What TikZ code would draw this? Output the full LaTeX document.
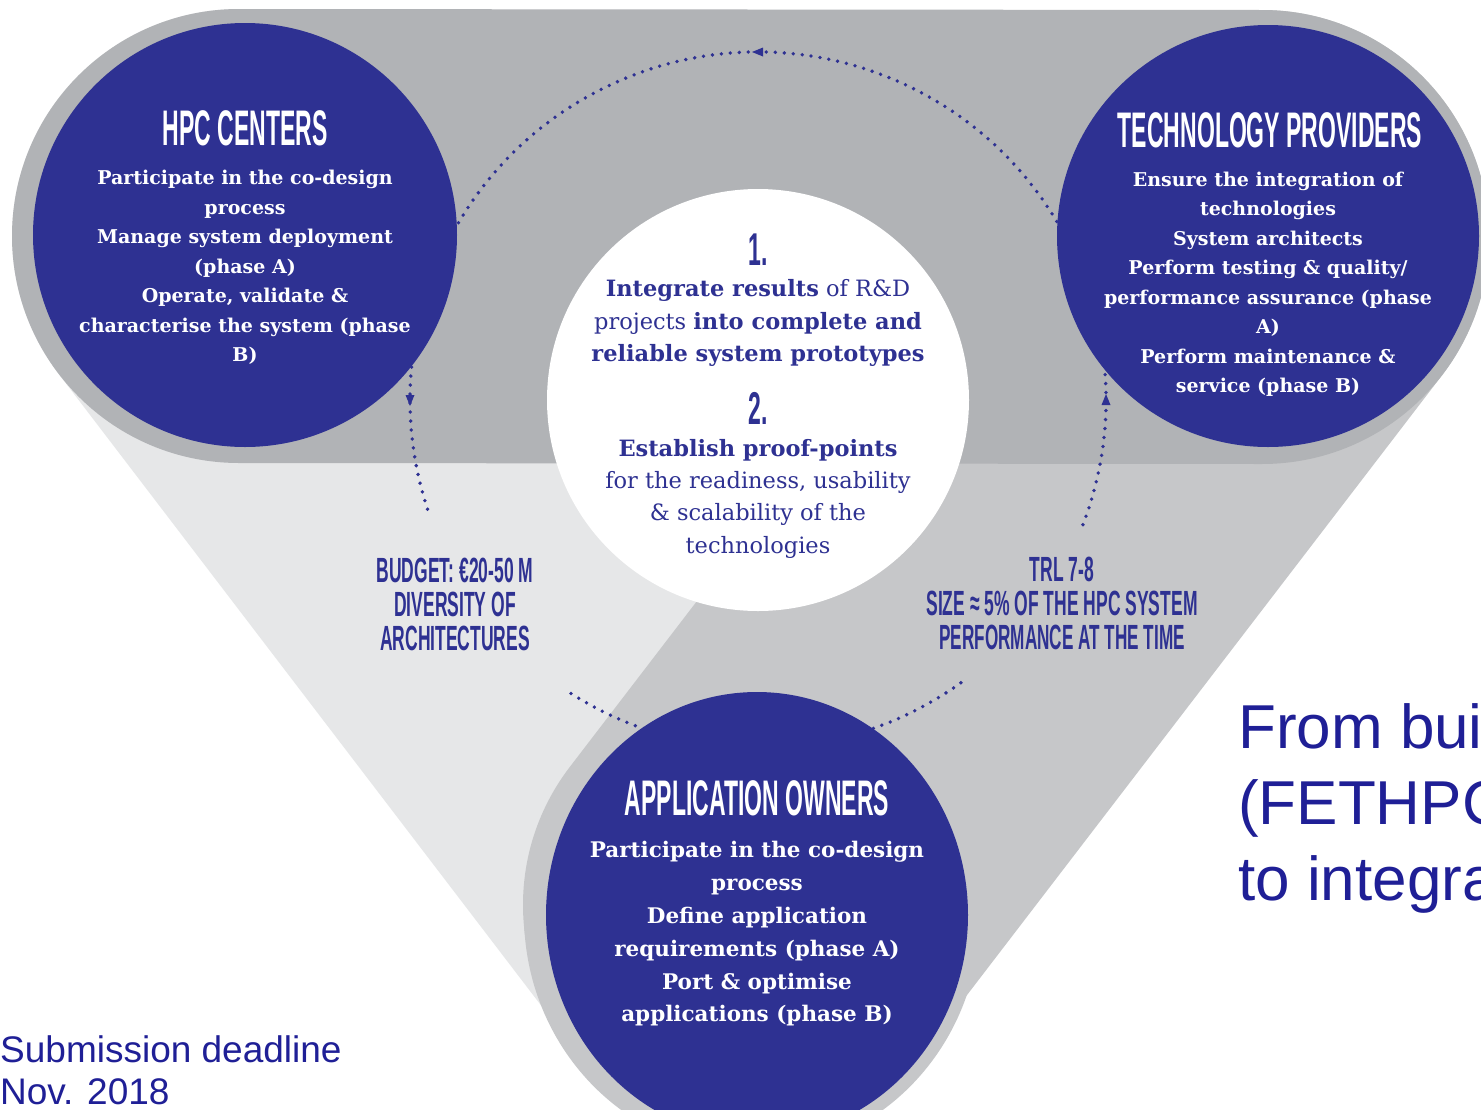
\documentclass[tikz,border=0pt]{standalone}
\usepackage{fontspec}
\usepackage{graphicx}
\usetikzlibrary{shapes.geometric}
\newfontfamily\serifbody{DejaVu Serif}
\newfontfamily\sansA{Liberation Sans}
\newcommand\condtxt[2][0.46]{\scalebox{#1}[1]{#2}}
\definecolor{navy}{HTML}{2E3192}
\definecolor{bandDark}{HTML}{B1B3B6}
\definecolor{bandMid}{HTML}{C6C7C9}
\definecolor{bandLight}{HTML}{E6E7E8}
\definecolor{slideblue}{HTML}{1F1F96}
\begin{document}
\begin{tikzpicture}[x=1pt,y=-1pt,
  pipe/.style={line width=454pt, line cap=round},
  bluedisc/.style={circle, fill=navy, inner sep=0pt, draw=none},
  whitedisc/.style={circle, fill=white, inner sep=0pt, draw=none},
  titletxt/.style={text=white, inner sep=0pt, font=\sansA\bfseries\fontsize{50}{50}\selectfont},
  condlabel/.style={text=navy, inner sep=0pt, align=center, font=\sansA\bfseries\fontsize{35}{34}\selectfont},
  numtxt/.style={text=navy, inner sep=0pt, font=\sansA\bfseries\fontsize{46}{46}\selectfont},
  whitebody/.style={text=white, inner sep=0pt, align=center, font=\serifbody\bfseries\fontsize{19}{29.5}\selectfont},
  appbody/.style={text=white, inner sep=0pt, align=center, font=\serifbody\bfseries\fontsize{21.5}{32.8}\selectfont},
  corebody/.style={text=navy, inner sep=0pt, align=center, font=\serifbody\fontsize{22.5}{32.3}\selectfont},
  dotring/.style={draw=navy, line width=3.8pt, line cap=round, dash pattern=on 0pt off 9pt},
  slidetxt/.style={text=slideblue, inner sep=0pt, anchor=base west, font=\sansA\fontsize{37}{43}\selectfont},
  bigslide/.style={text=slideblue, inner sep=0pt, anchor=base west, font=\sansA\fontsize{62}{77}\selectfont}
]
\useasboundingbox (0,0) rectangle (1481,1109);
\clip (0,0) rectangle (1481,1109);
\fill[white] (0,0) rectangle (1481,1109);

% halo centres
\coordinate (hH) at (239,236);
\coordinate (hT) at (1262,237);
\coordinate (hA) at (750,905);

% pipes
\draw[pipe, bandLight] (hH) -- (hA);
\draw[pipe, bandMid] (hT) -- (hA);
\fill[bandMid] (752,915) ellipse [x radius=228pt, y radius=238pt];
\draw[pipe, bandDark] (hH) -- (hT);

% dotted cycle
\begin{scope}[shift={(758,400)}, x=1pt, y=1pt]
  \draw[dotring] (-21:348) arc[start angle=-21, end angle=199, radius=348];
  \draw[dotring] (237.5:348) arc[start angle=237.5, end angle=307, radius=348];
  % small arrow heads (counter-clockwise)
  \fill[navy] (90:348) ++(-6,0) -- ++(11,4.5) -- ++(0,-9) -- cycle;
  \fill[navy] (180:348) ++(0,-6) -- ++(-4.5,11) -- ++(9,0) -- cycle;
  \fill[navy] (0:348) ++(0,6) -- ++(-4.5,-11) -- ++(9,0) -- cycle;
\end{scope}

% discs
\node[bluedisc, minimum size=424pt] (hpc) at (245,235) {};
\node[bluedisc, minimum size=422pt] (tech) at (1268,236) {};
\node[ellipse, fill=navy, inner sep=0pt, minimum width=422pt, minimum height=446pt] (app) at (757,915) {};
\node[whitedisc, minimum size=422pt] (core) at (758,400) {};

% HPC centers
\node[titletxt] (hpcT) at (245,128) {\condtxt{HPC CENTERS}};
\node[whitebody] (hpcB) at (245,267.5) {Participate in the co-design\\process\\Manage system deployment\\(phase A)\\Operate, validate \&\\characterise the system (phase\\B)};

% Technology providers
\node[titletxt] (techT) at (1270,130) {\condtxt{TECHNOLOGY PROVIDERS}};
\node[whitebody] (techB) at (1268,284.5) {Ensure the integration of\\technologies\\System architects\\Perform testing \& quality/\\performance assurance (phase\\A)\\Perform maintenance \&\\service (phase B)};

% Application owners
\node[titletxt] (appT) at (757,798) {\condtxt{APPLICATION OWNERS}};
\node[appbody] (appB) at (757,934) {Participate in the co-design\\process\\Define application\\requirements (phase A)\\Port \& optimise\\applications (phase B)};

% core
\node[numtxt] (n1) at (758,250) {\condtxt[0.5]{1.}};
\node[corebody] (c1) at (758,323) {\textbf{Integrate results} of R\&D\\projects \textbf{into complete and}\\\textbf{reliable system prototypes}};
\node[numtxt] (n2) at (758,408) {\condtxt[0.5]{2.}};
\node[corebody] (c2) at (758,498.5) {\textbf{Establish proof-points}\\for the readiness, usability\\\& scalability of the\\technologies};

% side labels
\node[condlabel] (budget) at (455,604) {\condtxt[0.5]{BUDGET: €20-50 M}\\\condtxt[0.5]{DIVERSITY OF}\\\condtxt[0.5]{ARCHITECTURES}};
\node[condlabel] (trl) at (1062,603) {\condtxt[0.5]{TRL 7-8}\\\condtxt[0.5]{SIZE ≈ 5\% OF THE HPC SYSTEM}\\\condtxt[0.49]{PERFORMANCE AT THE TIME}};

% slide texts
\node[slidetxt] (sub1) at (0,1062) {Submission deadline};
\node[slidetxt] (sub2) at (0,1104) {Nov. 2018};
\node[bigslide] (fr1) at (1238,748) {From bui};
\node[bigslide] (fr2) at (1238,824) {(FETHPC};
\node[bigslide] (fr3) at (1238,900) {to integra};
\end{tikzpicture}
\end{document}
